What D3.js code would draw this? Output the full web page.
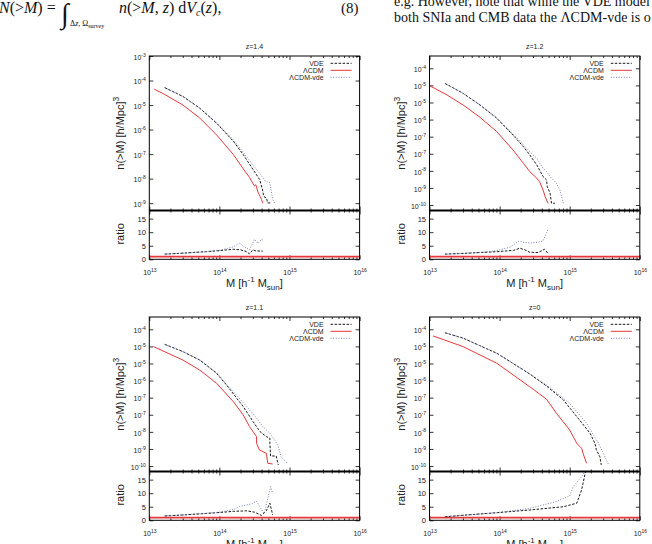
<!DOCTYPE html>
<html>
<head>
<meta charset="utf-8">
<script src="https://cdn.jsdelivr.net/npm/d3@7"></script>
<style>
  body { margin: 0; background: #fff; }
  svg { display: block; font-family: "Liberation Sans", Arial, sans-serif; }
</style>
</head>
<body>
<svg id="chart" width="652" height="544"></svg>
<script>
// ----------------------------------------------------------------------------
// Cumulative mass function n(>M) for VDE / LCDM / LCDM-vde at four redshifts
// values are [log10 M (h^-1 Msun), log10 n(>M)]
// ----------------------------------------------------------------------------

const titles = ["z=1.4", "z=1.2", "z=1.1", "z=0"]
const seriesNames = ["VDE", "\u039BCDM", "\u039BCDM-vde"]

// z = 1.4
const z14Vde = [[13.22,-4.29],[13.48,-4.65],[13.72,-5.13],[13.96,-5.74],[14.2,-6.48],[14.34,-7.02],
  [14.48,-7.63],[14.575,-8.04],[14.6,-8.3],[14.62,-8.52],[14.63,-8.72],[14.67,-8.79],[14.69,-8.99],[14.74,-8.99]]
const z14Lcdm = [[13.07,-4.35],[13.22,-4.57],[13.48,-5.0],[13.72,-5.53],[13.96,-6.22],[14.2,-7.02],
  [14.34,-7.6],[14.43,-7.95],[14.46,-8.11],[14.5,-8.3],[14.52,-8.25],[14.55,-8.55],[14.58,-8.72],[14.6,-8.85],[14.62,-9.0]]
const z14Lvde = [[13.22,-4.29],[13.48,-4.65],[13.72,-5.12],[13.96,-5.72],[14.2,-6.42],[14.34,-6.92],
  [14.48,-7.45],[14.57,-7.77],[14.65,-8.08],[14.72,-8.17],[14.74,-8.5],[14.76,-8.85],[14.79,-9.0]]
const z14RatioVde = [[13.22,1.9],[13.5,2.3],[13.8,2.8],[14.0,3.2],[14.2,3.7],[14.3,3.5],[14.38,2.9],
  [14.43,2.0],[14.48,3.5],[14.52,3.1],[14.62,3.0]]
const z14RatioLvde = [[13.22,1.9],[13.5,2.3],[13.8,2.8],[14.0,3.3],[14.2,4.6],[14.29,6.0],[14.34,4.8],
  [14.43,3.5],[14.5,7.4],[14.55,5.8],[14.6,7.4],[14.63,7.0]]

// z = 1.2
const z12Vde = [[13.22,-4.66],[13.48,-5.1],[13.72,-5.61],[13.96,-6.19],[14.19,-6.93],[14.34,-7.44],
  [14.43,-7.8],[14.53,-8.24],[14.62,-8.75],[14.67,-8.9],[14.68,-9.19],[14.72,-9.48],[14.74,-9.92],[14.79,-9.92]]
const z12Lcdm = [[13.0,-4.76],[13.25,-5.17],[13.48,-5.61],[13.72,-6.15],[13.96,-6.78],[14.19,-7.58],
  [14.34,-8.17],[14.43,-8.53],[14.53,-8.82],[14.57,-8.97],[14.62,-9.34],[14.65,-9.63],[14.69,-9.92]]
const z12Lvde = [[13.22,-4.66],[13.48,-5.1],[13.72,-5.6],[13.96,-6.17],[14.19,-6.88],[14.34,-7.36],
  [14.43,-7.66],[14.53,-7.95],[14.62,-8.39],[14.67,-8.53],[14.72,-8.75],[14.81,-9.04],[14.86,-9.34],[14.91,-9.92]]
const z12RatioVde = [[13.22,1.9],[13.5,2.2],[13.72,2.5],[13.96,2.8],[14.2,3.3],[14.29,4.1],[14.36,3.5],
  [14.43,2.6],[14.55,2.5],[14.64,3.7],[14.69,2.2]]
const z12RatioLvde = [[13.22,1.9],[13.5,2.2],[13.72,2.5],[13.96,3.2],[14.15,4.5],[14.27,6.6],[14.36,6.2],
  [14.43,6.0],[14.55,6.3],[14.62,6.8],[14.69,11.0]]

// z = 1.1
const z11Vde = [[13.22,-4.66],[13.48,-4.98],[13.72,-5.35],[13.96,-5.93],[14.1,-6.44],[14.34,-7.39],
  [14.48,-8.05],[14.58,-8.49],[14.67,-8.71],[14.72,-8.78],[14.72,-9.0],[14.73,-9.56],[14.81,-9.56],[14.84,-9.95]]
const z11Lcdm = [[13.06,-4.76],[13.48,-5.35],[13.72,-5.79],[13.96,-6.37],[14.2,-7.18],[14.34,-7.76],
  [14.43,-8.27],[14.53,-8.71],[14.53,-9.0],[14.57,-9.29],[14.67,-9.44],[14.69,-9.88],[14.76,-9.91]]
const z11Lvde = [[13.22,-4.66],[13.48,-4.98],[13.72,-5.34],[13.96,-5.9],[14.1,-6.4],[14.39,-7.39],
  [14.53,-7.9],[14.62,-8.27],[14.72,-8.56],[14.79,-8.86],[14.84,-9.15],[14.88,-9.59],[14.98,-9.91]]
const z11RatioVde = [[13.22,1.6],[13.5,2.0],[13.8,2.5],[13.96,2.8],[14.2,3.3],[14.39,3.5],[14.5,3.0],
  [14.6,1.8],[14.67,3.5],[14.72,6.3],[14.76,2.0]]
const z11RatioLvde = [[13.22,1.6],[13.5,2.0],[13.8,2.6],[14.0,3.0],[14.2,4.0],[14.3,5.2],[14.45,6.0],
  [14.53,7.0],[14.6,4.0],[14.64,2.5],[14.73,12.4],[14.76,10.0]]

// z = 0
const z0Vde = [[13.22,-4.15],[13.48,-4.39],[13.96,-5.05],[14.43,-5.96],[14.67,-6.49],[14.91,-7.1],
  [15.14,-7.98],[15.29,-8.56],[15.36,-9.0],[15.38,-9.29],[15.43,-9.59],[15.45,-9.95]]
const z0Lcdm = [[13.05,-4.29],[13.48,-4.76],[13.96,-5.49],[14.43,-6.52],[14.67,-7.07],[14.81,-7.68],
  [15.0,-8.42],[15.1,-9.0],[15.17,-9.22],[15.19,-9.44],[15.24,-9.88]]
const z0Lvde = [[13.22,-4.15],[13.48,-4.39],[13.96,-5.05],[14.43,-5.95],[14.67,-6.45],[15.0,-7.25],
  [15.24,-8.12],[15.41,-9.0],[15.48,-9.44],[15.55,-9.91]]
const z0RatioVde = [[13.22,1.3],[13.5,1.9],[13.96,2.8],[14.43,3.8],[14.91,5.0],[15.1,6.3],[15.17,11.2],
  [15.22,17.3],[15.23,18.5]]
const z0RatioLvde = [[13.22,1.3],[13.5,1.9],[13.96,2.8],[14.43,4.4],[14.81,6.9],[15.0,9.0],[15.05,12.4],
  [15.17,16.1],[15.22,18.5]]

// axis ticks
const massExp = [13, 14, 15, 16]
const ratioTicks = [0, 5, 10, 15]
const nExpTop = [-3, -4, -5, -6, -7, -8, -9]
const nLabTop = ["-3", "-4", "-5", "-6", "-7", "-8", "-9"]
const nExpOther = [-4, -4.75, -5.5, -6.25, -7, -7.75, -8.5, -9.25, -10]
const nLabOther = ["-4", "-5", "-5", "-6", "-7", "-7", "-8", "-9", "-10"]

// ----------------------------------------------------------------------------
const COLORS = { vde: "#1a1a1a", lcdm: "#e5383b", lvde: "#6a76aa", axis: "#000" }
const LAYOUT = { cols: [149.3, 429.5], rows: [56, 317], w: 210.3, mainH: 154.5, ratioH: 48.8 }

const panels = [
  { title: titles[0], col: 0, row: 0, yDom: [-9.3, -3], yExp: nExpTop, yLab: nLabTop,
    vde: z14Vde, lcdm: z14Lcdm, lvde: z14Lvde, rVde: z14RatioVde, rLvde: z14RatioLvde },
  { title: titles[1], col: 1, row: 0, yDom: [-10.24, -3.46], yExp: nExpOther, yLab: nLabOther,
    vde: z12Vde, lcdm: z12Lcdm, lvde: z12Lvde, rVde: z12RatioVde, rLvde: z12RatioLvde },
  { title: titles[2], col: 0, row: 1, yDom: [-10.24, -3.46], yExp: nExpOther, yLab: nLabOther,
    vde: z11Vde, lcdm: z11Lcdm, lvde: z11Lvde, rVde: z11RatioVde, rLvde: z11RatioLvde },
  { title: titles[3], col: 1, row: 1, yDom: [-10.24, -3.46], yExp: nExpOther, yLab: nLabOther,
    vde: z0Vde, lcdm: z0Lcdm, lvde: z0Lvde, rVde: z0RatioVde, rLvde: z0RatioLvde }
]

const svg = d3.select("#chart")
svg.append("rect").attr("width", 652).attr("height", 544).attr("fill", "#fff")

// paper text around the figure
function drawPageText() {
  const g = svg.append("g").attr("font-family", "'Liberation Serif', 'Times New Roman', serif").attr("fill", "#111")
  const eq = g.append("text").attr("x", -1).attr("y", 13).attr("font-size", 16)
  eq.append("tspan").attr("font-style", "italic").text("N")
  eq.append("tspan").text("(>")
  eq.append("tspan").attr("font-style", "italic").text("M")
  eq.append("tspan").text(") =")
  g.append("text").attr("x", 61).attr("y", 23).attr("font-size", 28).text("\u222B")
  const sub = g.append("text").attr("x", 70).attr("y", 26).attr("font-size", 8)
  sub.append("tspan").text("\u0394")
  sub.append("tspan").attr("font-style", "italic").text("z")
  sub.append("tspan").text(", \u03A9")
  sub.append("tspan").attr("font-size", 6).attr("dy", 1.5).text("survey")
  const rhs = g.append("text").attr("x", 119).attr("y", 13).attr("font-size", 16)
  rhs.append("tspan").attr("font-style", "italic").text("n")
  rhs.append("tspan").text("(>")
  rhs.append("tspan").attr("font-style", "italic").text("M")
  rhs.append("tspan").text(", ")
  rhs.append("tspan").attr("font-style", "italic").text("z")
  rhs.append("tspan").text(") d")
  rhs.append("tspan").attr("font-style", "italic").text("V")
  rhs.append("tspan").attr("font-style", "italic").attr("font-size", 10).attr("dy", 3).text("c")
  rhs.append("tspan").attr("dy", -3).text("(")
  rhs.append("tspan").attr("font-style", "italic").text("z")
  rhs.append("tspan").text("),")
  g.append("text").attr("x", 341).attr("y", 13).attr("font-size", 15).text("(8)")
  g.append("text").attr("x", 394).attr("y", 6).attr("font-size", 14)
    .text("e.g. However, note that while the VDE model")
  g.append("text").attr("x", 394).attr("y", 22).attr("font-size", 14)
    .text("both SNIa and CMB data the \u039BCDM-vde is o")
}

// "10" with a raised exponent
function powerLabel(textSel, exp, baseSize, supSize) {
  textSel.text(null)
  textSel.append("tspan").attr("font-size", baseSize).text("10")
  textSel.append("tspan").attr("font-size", supSize).attr("dy", -baseSize * 0.45).text(exp)
}

function styleAxis(g) {
  g.select(".domain").remove()
  g.selectAll("line").attr("stroke", COLORS.axis).attr("stroke-width", 0.8)
  g.selectAll("text").attr("fill", "#222").attr("font-family", "'Liberation Sans', Arial, sans-serif")
}

function minorMasses() {
  const out = []
  for (let e = 13; e < 16; e++) for (let k = 2; k <= 9; k++) out.push(k * Math.pow(10, e))
  return out
}

function xTicks(g, x, y, dir) {
  // major and minor mass ticks pointing into the box (dir = +1 down, -1 up)
  const major = dir > 0 ? d3.axisTop(x) : d3.axisBottom(x)
  g.append("g").attr("transform", `translate(0,${y})`)
    .call(major.tickValues(massExp.map(e => Math.pow(10, e))).tickSize(-4).tickFormat(""))
    .call(styleAxis)
  const minor = dir > 0 ? d3.axisTop(x) : d3.axisBottom(x)
  g.append("g").attr("transform", `translate(0,${y})`)
    .call(minor.tickValues(minorMasses()).tickSize(-2).tickFormat(""))
    .call(styleAxis)
}

function drawPanel(p, i) {
  const left = LAYOUT.cols[p.col], right = left + LAYOUT.w
  const top = LAYOUT.rows[p.row], mid = top + LAYOUT.mainH, bottom = mid + LAYOUT.ratioH
  const g = svg.append("g")

  const x = d3.scaleLog().domain([1e13, 1e16]).range([left, right])
  const y = d3.scaleLog().domain(p.yDom.map(v => Math.pow(10, v))).range([mid, top])
  const yr = d3.scaleLinear().domain([0, 18]).range([bottom, mid])

  // clip paths
  const defs = g.append("defs")
  defs.append("clipPath").attr("id", `clipM${i}`).append("rect")
    .attr("x", left).attr("y", top).attr("width", LAYOUT.w).attr("height", LAYOUT.mainH)
  defs.append("clipPath").attr("id", `clipR${i}`).append("rect")
    .attr("x", left).attr("y", mid).attr("width", LAYOUT.w).attr("height", LAYOUT.ratioH)

  // title
  g.append("text").attr("x", (left + right) / 2).attr("y", top - 7.5)
    .attr("text-anchor", "middle").attr("font-size", 7).attr("fill", "#222").text(p.title)

  // main y axis
  const yVals = p.yExp.map(e => Math.pow(10, e))
  const yAx = g.append("g").attr("transform", `translate(${left},0)`)
    .call(d3.axisLeft(y).tickValues(yVals).tickSize(-4).tickPadding(3.5).tickFormat(""))
    .call(styleAxis)
  yAx.selectAll(".tick text").each(function (d, k) {
    powerLabel(d3.select(this), p.yLab[k], 7, 5)
  })
  g.append("g").attr("transform", `translate(${right},0)`)
    .call(d3.axisRight(y).tickValues(yVals).tickSize(-4).tickFormat("")).call(styleAxis)

  // ratio y axis
  g.append("g").attr("transform", `translate(${left},0)`)
    .call(d3.axisLeft(yr).tickValues(ratioTicks).tickSize(-4).tickPadding(3.5))
    .call(styleAxis)
    .selectAll("text").attr("font-size", 7.5)
  g.append("g").attr("transform", `translate(${right},0)`)
    .call(d3.axisRight(yr).tickValues(ratioTicks).tickSize(-4).tickFormat("")).call(styleAxis)

  // x ticks on every horizontal edge
  xTicks(g, x, top, 1)
  xTicks(g, x, mid, -1)
  xTicks(g, x, mid, 1)
  xTicks(g, x, bottom, -1)

  // x tick labels
  const xLab = g.append("g").attr("transform", `translate(0,${bottom})`)
    .call(d3.axisBottom(x).tickValues(massExp.map(e => Math.pow(10, e))).tickSize(0).tickPadding(8.5).tickFormat(""))
    .call(styleAxis)
  xLab.selectAll(".tick text").each(function (d, k) {
    powerLabel(d3.select(this), String(massExp[k]), 7, 5)
  })

  // axis titles
  const yt = g.append("text").attr("transform", `translate(${left - 25},${(top + mid) / 2}) rotate(-90)`)
    .attr("text-anchor", "middle").attr("font-size", 11).attr("fill", "#222")
  yt.append("tspan").text("n(>M) [h/Mpc]")
  yt.append("tspan").attr("font-size", 8.5).attr("dy", -5).text("3")
  g.append("text").attr("transform", `translate(${left - 25},${(mid + bottom) / 2 - 1}) rotate(-90)`)
    .attr("text-anchor", "middle").attr("font-size", 11).attr("fill", "#222").text("ratio")
  const xt = g.append("text").attr("x", (left + right) / 2).attr("y", bottom + 28)
    .attr("text-anchor", "middle").attr("font-size", 11).attr("fill", "#222")
  xt.append("tspan").text("M [h")
  xt.append("tspan").attr("font-size", 8).attr("dy", -5).text("-1")
  xt.append("tspan").attr("dy", 5).text(" M")
  xt.append("tspan").attr("font-size", 8).attr("dy", 3).text("sun")
  xt.append("tspan").attr("dy", -3).text("]")

  // curves
  const line = d3.line().x(d => x(Math.pow(10, d[0]))).y(d => y(Math.pow(10, d[1])))
  const rline = d3.line().x(d => x(Math.pow(10, d[0]))).y(d => yr(d[1]))
  const main = g.append("g").attr("clip-path", `url(#clipM${i})`).attr("fill", "none")
  main.append("path").attr("d", line(p.vde)).attr("stroke", COLORS.vde).attr("stroke-width", 1)
    .attr("stroke-dasharray", "2.5,1.5")
  main.append("path").attr("d", line(p.lcdm)).attr("stroke", COLORS.lcdm).attr("stroke-width", 1)
  main.append("path").attr("d", line(p.lvde)).attr("stroke", COLORS.lvde).attr("stroke-width", 0.9)
    .attr("stroke-dasharray", "1,1.6")

  const rat = g.append("g").attr("clip-path", `url(#clipR${i})`).attr("fill", "none")
  rat.append("path").attr("d", rline([[13, 1], [16, 1]])).attr("stroke", COLORS.lcdm).attr("stroke-width", 1.6)
  rat.append("path").attr("d", rline(p.rVde)).attr("stroke", COLORS.vde).attr("stroke-width", 1)
    .attr("stroke-dasharray", "2.5,1.5")
  rat.append("path").attr("d", rline(p.rLvde)).attr("stroke", COLORS.lvde).attr("stroke-width", 0.9)
    .attr("stroke-dasharray", "1,1.6")

  // frames, with the heavier divider between the two boxes
  g.append("rect").attr("x", left).attr("y", top).attr("width", LAYOUT.w).attr("height", LAYOUT.mainH + LAYOUT.ratioH)
    .attr("fill", "none").attr("stroke", COLORS.axis).attr("stroke-width", 1)
  g.append("line").attr("x1", left).attr("x2", right).attr("y1", mid).attr("y2", mid)
    .attr("stroke", COLORS.axis).attr("stroke-width", 1.8)

  // legend
  const styles = [
    { c: COLORS.vde, dash: "2.5,1.5", w: 1 },
    { c: COLORS.lcdm, dash: null, w: 1 },
    { c: COLORS.lvde, dash: "1,1.6", w: 0.9 }
  ]
  seriesNames.forEach((name, k) => {
    const ly = top + 7.3 + k * 7
    g.append("text").attr("x", right - 36).attr("y", ly + 2.4).attr("text-anchor", "end")
      .attr("font-size", 7).attr("fill", "#222").text(name)
    g.append("line").attr("x1", right - 29).attr("x2", right - 8).attr("y1", ly).attr("y2", ly)
      .attr("stroke", styles[k].c).attr("stroke-width", styles[k].w)
      .attr("stroke-dasharray", styles[k].dash)
  })
}

drawPageText()
panels.forEach(drawPanel)
</script>
</body>
</html>
